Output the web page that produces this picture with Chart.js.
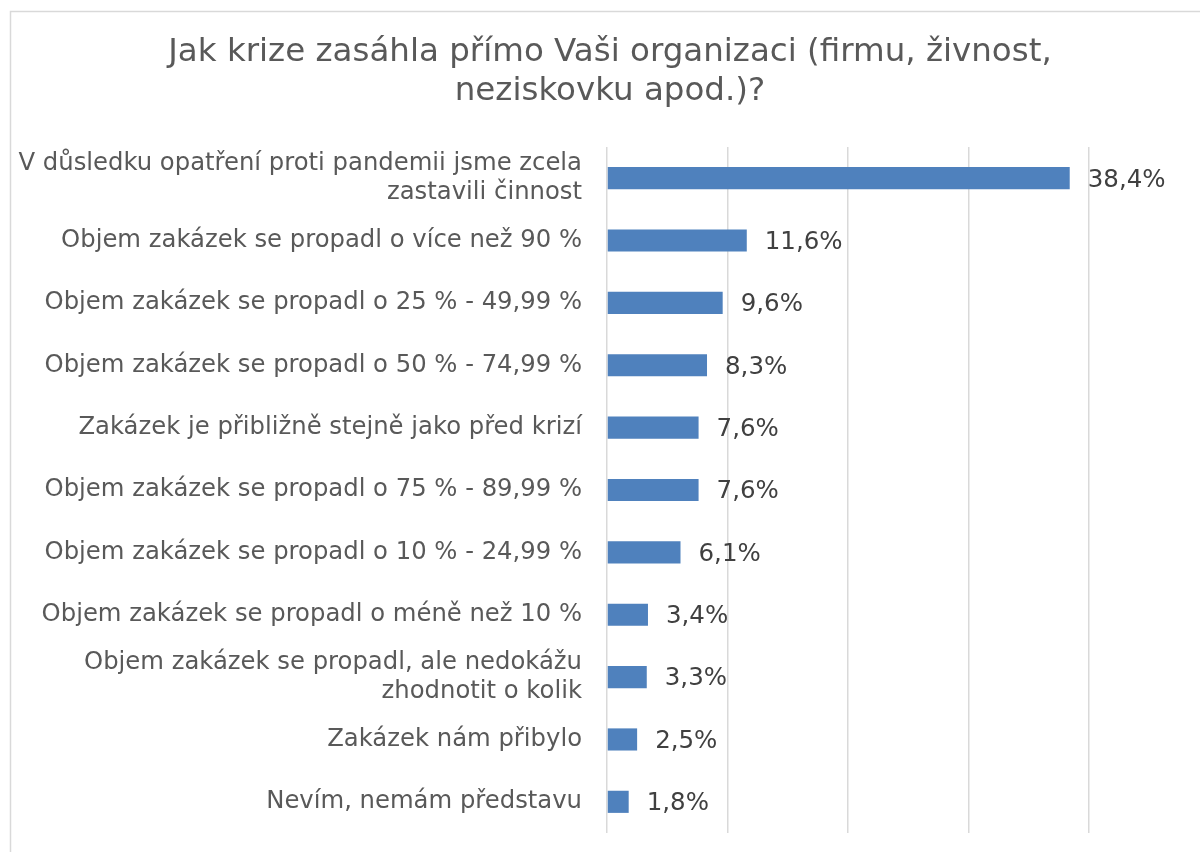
<!DOCTYPE html>
<html>
<head>
<meta charset="utf-8">
<script src="https://cdn.jsdelivr.net/npm/chart.js@4/dist/chart.umd.min.js"></script>
<style>
html,body{margin:0;padding:0;background:#fff;}
#wrap{position:relative;width:1200px;height:852px;}
</style>
</head>
<body>
<div id="wrap"><canvas id="c" width="1200" height="852"></canvas></div>
<script>
const titleLines = ["Jak krize zasáhla přímo Vaši organizaci (firmu, živnost,", "neziskovku apod.)?"];
const categories = [
  ["V důsledku opatření proti pandemii jsme zcela", "zastavili činnost"],
  "Objem zakázek se propadl o více než 90 %",
  "Objem zakázek se propadl o 25 % - 49,99 %",
  "Objem zakázek se propadl o 50 % - 74,99 %",
  "Zakázek je přibližně stejně jako před krizí",
  "Objem zakázek se propadl o 75 % - 89,99 %",
  "Objem zakázek se propadl o 10 % - 24,99 %",
  "Objem zakázek se propadl o méně než 10 %",
  ["Objem zakázek se propadl, ale nedokážu", "zhodnotit o kolik"],
  "Zakázek nám přibylo",
  "Nevím, nemám představu"
];
const values = [38.4, 11.6, 9.6, 8.3, 7.6, 7.6, 6.1, 3.4, 3.3, 2.5, 1.8];
const axisMin = 0, axisMax = 40, axisStep = 10;

const FONT = "DejaVu Sans";

const framePlugin = {
  id: 'frame',
  beforeDraw(chart) {
    const ctx = chart.ctx;
    ctx.save();
    ctx.strokeStyle = '#d9d9d9';
    ctx.lineWidth = 1.5;
    ctx.beginPath();
    ctx.moveTo(10.5, 852);
    ctx.lineTo(10.5, 11.5);
    ctx.lineTo(1200, 11.5);
    ctx.stroke();
    ctx.restore();
  },
  afterDraw(chart) {
    const ctx = chart.ctx;
    ctx.save();
    ctx.font = "32.5px \"DejaVu Sans\"";
    ctx.fillStyle = '#595959';
    ctx.textAlign = 'center';
    ctx.textBaseline = 'middle';
    titleLines.forEach((t, i) => ctx.fillText(t, 610, 52.5 + i * 39));
    ctx.restore();
  }
};

const valueLabels = {
  id: 'valueLabels',
  afterDatasetsDraw(chart) {
    const ctx = chart.ctx;
    const meta = chart.getDatasetMeta(0);
    ctx.save();
    ctx.font = "24.5px \"DejaVu Sans\"";
    ctx.fillStyle = '#404040';
    ctx.textAlign = 'left';
    ctx.textBaseline = 'middle';
    meta.data.forEach((bar, i) => {
      const txt = values[i].toFixed(1).replace('.', ',') + '%';
      ctx.fillText(txt, bar.x + 18, bar.y + 2);
    });
    ctx.restore();
  }
};

Chart.defaults.font.family = FONT;

new Chart(document.getElementById('c'), {
  type: 'bar',
  data: {
    labels: categories,
    datasets: [{
      data: values,
      backgroundColor: '#4F81BD',
      borderWidth: 0,
      barPercentage: 0.355,
      categoryPercentage: 1.0
    }]
  },
  options: {
    indexAxis: 'y',
    responsive: false,
    animation: false,
    layout: { padding: { left: 0, right: 111, top: 147, bottom: 19 } },
    plugins: {
      legend: { display: false },
      tooltip: { enabled: false },
      title: { display: false }
    },
    scales: {
      x: {
        min: axisMin, max: axisMax,
        afterFit(scale) { scale.height = 0; },
        ticks: { display: false, stepSize: axisStep },
        grid: { color: '#d9d9d9', lineWidth: 1.5, drawTicks: false },
        border: { display: false }
      },
      y: {
        afterFit(scale) { scale.width = 607; scale.paddingTop = 0; scale.paddingBottom = 0; },
        ticks: {
          color: '#595959',
          font: { family: FONT, size: 24.3, lineHeight: 1.2 },
          padding: 25
        },
        grid: { display: false, drawTicks: false },
        border: { display: false }
      }
    }
  },
  plugins: [framePlugin, valueLabels]
});
</script>
</body>
</html>
